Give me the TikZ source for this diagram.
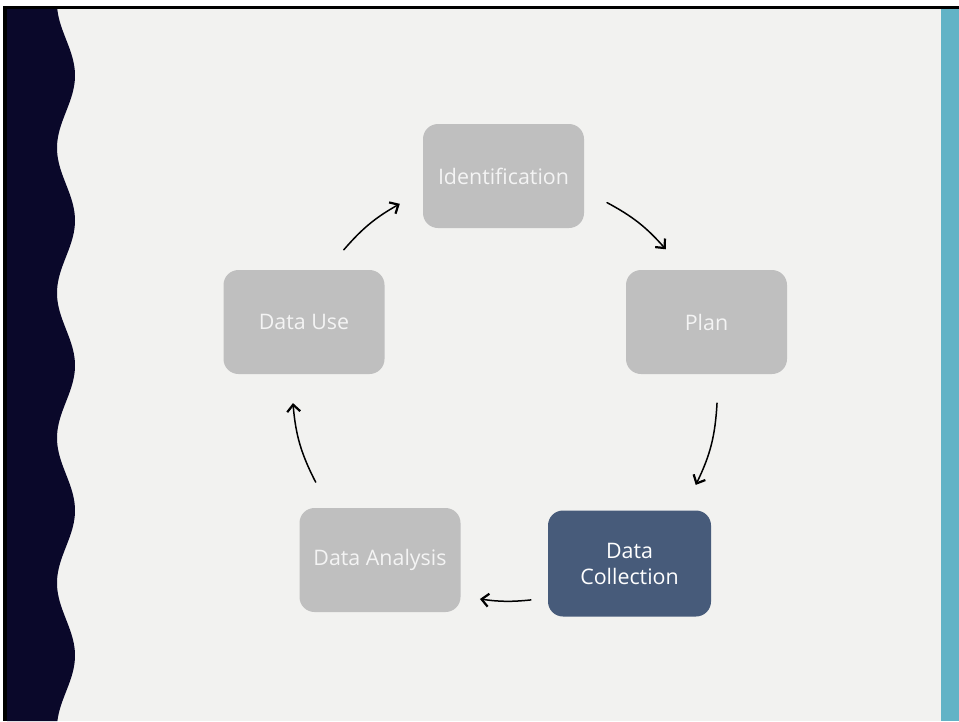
\documentclass[tikz,border=0pt]{standalone}
\usepackage{fontspec}
\setmainfont{Open Sans}
\usetikzlibrary{arrows.meta}

\definecolor{pagebg}{HTML}{F2F2F0}
\definecolor{wavenavy}{HTML}{0A082A}
\definecolor{sidebar}{HTML}{62B3C6}
\definecolor{boxgray}{HTML}{BFBFBF}
\definecolor{boxdark}{HTML}{475B7A}
\definecolor{boxtext}{HTML}{F4F4F4}

\tikzset{
  stagebox/.style={rectangle, rounded corners=15pt, fill=boxgray, draw=none,
    minimum width=161pt, minimum height=104pt, text=boxtext, align=center,
    font=\fontsize{21.4}{26}\selectfont},
  activebox/.style={stagebox, fill=boxdark, text=white,
    minimum width=163pt, minimum height=106pt},
  cyclearrow/.style={draw=black, line width=1.5pt, line cap=round,
    -{Straight Barb[length=7pt,width=13pt,line width=2.2pt]}},
}

\begin{document}
\begin{tikzpicture}[x=1pt,y=-1pt]
  \useasboundingbox (0,0) rectangle (959,721);

  % page background and frame
  \fill[white] (0,0) rectangle (959,721);
  \fill[pagebg] (6,8) rectangle (959,721);
  \fill[black] (3,6) rectangle (959,9);
  \fill[black] (3,6) rectangle (7,721);

  % right accent bar
  \fill[sidebar] (941,9) rectangle (959,721);

  % wavy left band (period 145, crests at x = 75)
  \fill[wavenavy] (7,9)
    -- plot[domain=9:721, samples=220] ({66-9*cos((\x-3)*2.48276)}, \x)
    -- (7,721) -- cycle;

  % stages of the cycle
  \node[stagebox]  (ident)    at (503.5,176)   {Identification};
  \node[stagebox]  (plan)     at (706.5,322)   {Plan};
  \node[activebox] (collect)  at (629.5,563.5) {Data\\Collection};
  \node[stagebox]  (analysis) at (380,560)     {Data Analysis};
  \node[stagebox]  (use)      at (304,322)     {Data Use};

  % arrow end points on the cycle circle
  \coordinate (hub) at (505,389);
  \coordinate (use-out)      at ([shift={(139.2:213pt)}]hub);
  \coordinate (ident-in)     at ([shift={(119.6:213pt)}]hub);
  \coordinate (ident-out)    at ([shift={(61.3:212.5pt)}]hub);
  \coordinate (plan-in)      at ([shift={(41:213pt)}]hub);
  \coordinate (plan-out)     at ([shift={(-3.8:212.5pt)}]hub);
  \coordinate (collect-in)   at ([shift={(-26.7:213.5pt)}]hub);
  \coordinate (collect-out)  at ([shift={(-83:212.5pt)}]hub);
  \coordinate (analysis-in)  at ([shift={(-96.8:211.5pt)}]hub);
  \coordinate (analysis-out) at ([shift={(206.2:211pt)}]hub);
  \coordinate (use-in)       at ([shift={(183.8:212.5pt)}]hub);

  % connectors
  \draw[cyclearrow] (use-out)      to[bend left=9.8]  (ident-in);
  \draw[cyclearrow] (ident-out)    to[bend left=10.2] (plan-in);
  \draw[cyclearrow] (plan-out)     to[bend left=11.4] (collect-in);
  \draw[cyclearrow] (collect-out)  to[bend left=6.9]  (analysis-in);
  \draw[cyclearrow] (analysis-out) to[bend left=11.2] (use-in);
\end{tikzpicture}
\end{document}
